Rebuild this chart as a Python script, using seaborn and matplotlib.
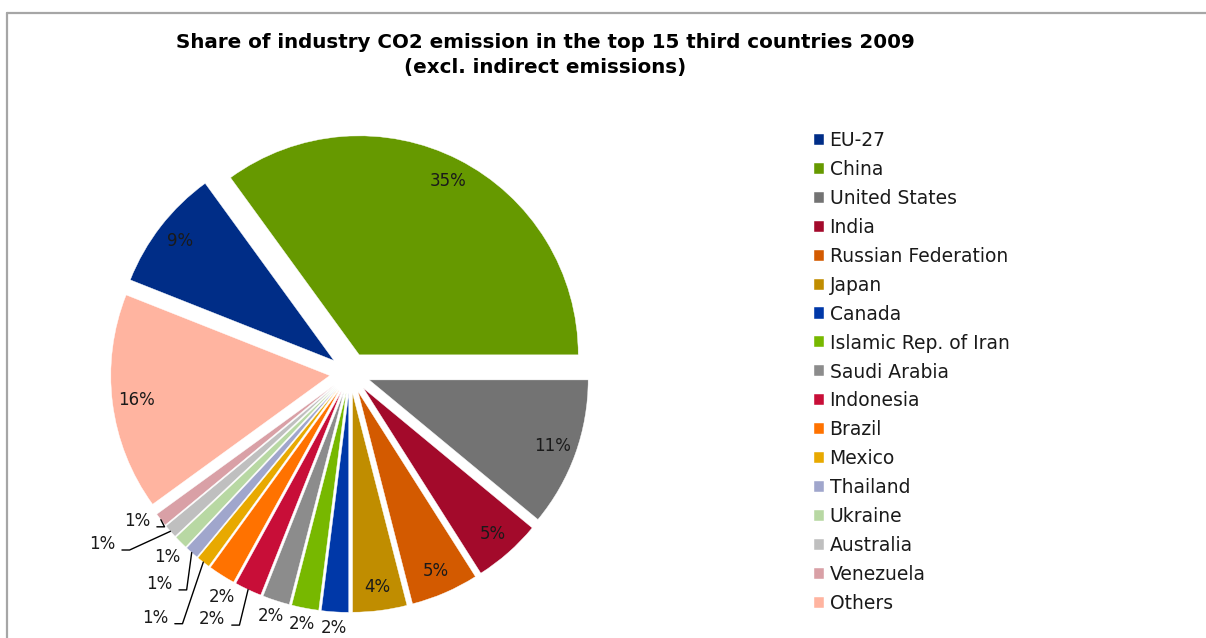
import matplotlib
matplotlib.use("Agg")
import matplotlib.pyplot as plt
from matplotlib.lines import Line2D
import numpy as np
import seaborn as sns

# Industry CO2 emission shares, 2009 (percent)
countries = ["EU-27", "China", "United States", "India", "Russian Federation",
             "Japan", "Canada", "Islamic Rep. of Iran", "Saudi Arabia",
             "Indonesia", "Brazil", "Mexico", "Thailand", "Ukraine",
             "Australia", "Venezuela", "Others"]
shares = [9, 35, 11, 5, 5, 4, 2, 2, 2, 2, 2, 1, 1, 1, 1, 1, 16]
colors = ["#002D87", "#669900", "#737373", "#A30A2B", "#D35A00",
          "#C08D00", "#0038A8", "#77B800", "#8C8C8C", "#C80E38",
          "#FF7200", "#E8A900", "#A0A6CC", "#B8D8A3", "#BFBFBF",
          "#D9A0A6", "#FFB4A0"]
title_lines = ["Share of industry CO2 emission in the top 15 third countries 2009",
               "(excl. indirect emissions)"]

sns.set_theme(style="white")
plt.rcParams["font.family"] = ["DejaVu Sans"]
palette = sns.color_palette(colors)

W, H = 1206, 638
fig = plt.figure(figsize=(W / 100, H / 100), dpi=100)
fig.patch.set_facecolor("white")

# pie axes laid out in pixel units (1 data unit = pie radius)
R_PX = 219
CX, CY = 350, 373
ax = fig.add_axes([0, 0, 1, 1])
wedges, _ = ax.pie(shares, colors=palette, startangle=158.4, counterclock=False,
                   explode=[0.093] * len(shares), radius=1.0,
                   wedgeprops=dict(edgecolor="white", linewidth=0.3))
ax.set_xlim(-CX / R_PX, (W - CX) / R_PX)
ax.set_ylim(-(H - CY) / R_PX, CY / R_PX)
ax.set_aspect("auto")
ax.axis("off")

# label placement: inside, plain outside, or outside with a leader line
outside_plain = {"Canada": (1.075, 0.0), "Islamic Rep. of Iran": (1.075, 0.0),
                 "Saudi Arabia": (1.075, 0.0), "Brazil": (1.085, 2.8),
                 "Ukraine": (1.09, 0.3)}
outside_leader = {"Indonesia": (1.195, -119.6), "Mexico": (1.335, -128.6),
                  "Thailand": (1.205, -132.2), "Australia": (1.282, -145.9),
                  "Venezuela": (1.09, -145.5)}

LABEL_FS = 12
for w, name, val in zip(wedges, countries, shares):
    cx, cy = w.center
    mid = np.deg2rad((w.theta1 + w.theta2) / 2)
    txt = f"{val}%"
    if name in outside_leader:
        r, ang = outside_leader[name]
        a = np.deg2rad(ang)
        lx, ly = cx + r * np.cos(a), cy + r * np.sin(a)
        ax.text(lx, ly, txt, ha="center", va="center", fontsize=LABEL_FS, color="#1a1a1a")
        ex, ey = cx + np.cos(mid), cy + np.sin(mid)
        sx0, sx1, sy = lx + 0.09, lx + 0.125, ly - 0.028
        ax.add_line(Line2D([sx0, sx1, ex], [sy, sy, ey], color="black", lw=1.0))
    elif name in outside_plain:
        r, shift = outside_plain[name]
        a = mid + np.deg2rad(shift)
        ax.text(cx + r * np.cos(a), cy + r * np.sin(a), txt, ha="center",
                va="center", fontsize=LABEL_FS, color="#1a1a1a")
    else:
        ax.text(cx + 0.89 * np.cos(mid), cy + 0.89 * np.sin(mid), txt, ha="center",
                va="center", fontsize=LABEL_FS, color="#1a1a1a")

# title
fig.text(545 / W, 1 - 42 / H, title_lines[0], ha="center", va="center",
         fontsize=14.3, fontweight="bold", color="black")
fig.text(545 / W, 1 - 67 / H, title_lines[1], ha="center", va="center",
         fontsize=14.3, fontweight="bold", color="black")

# legend
leg = fig.legend(wedges, countries, loc="upper left",
                 bbox_to_anchor=(814 / W, 1 - 131 / H), frameon=False,
                 fontsize=13.5, handlelength=0.53, handleheight=0.53,
                 handletextpad=0.3, labelspacing=0.53, borderpad=0,
                 borderaxespad=0)
for t in leg.get_texts():
    t.set_color("#1a1a1a")

# chart-area frame (top and left edges)
frame_kw = dict(color="#A6A6A6", lw=1.6, transform=fig.transFigure)
fig.add_artist(Line2D([6.5 / W, 1], [1 - 12.5 / H, 1 - 12.5 / H], **frame_kw))
fig.add_artist(Line2D([6.5 / W, 6.5 / W], [0, 1 - 12.5 / H], **frame_kw))

fig.savefig("out.png", dpi=100, facecolor="white")
